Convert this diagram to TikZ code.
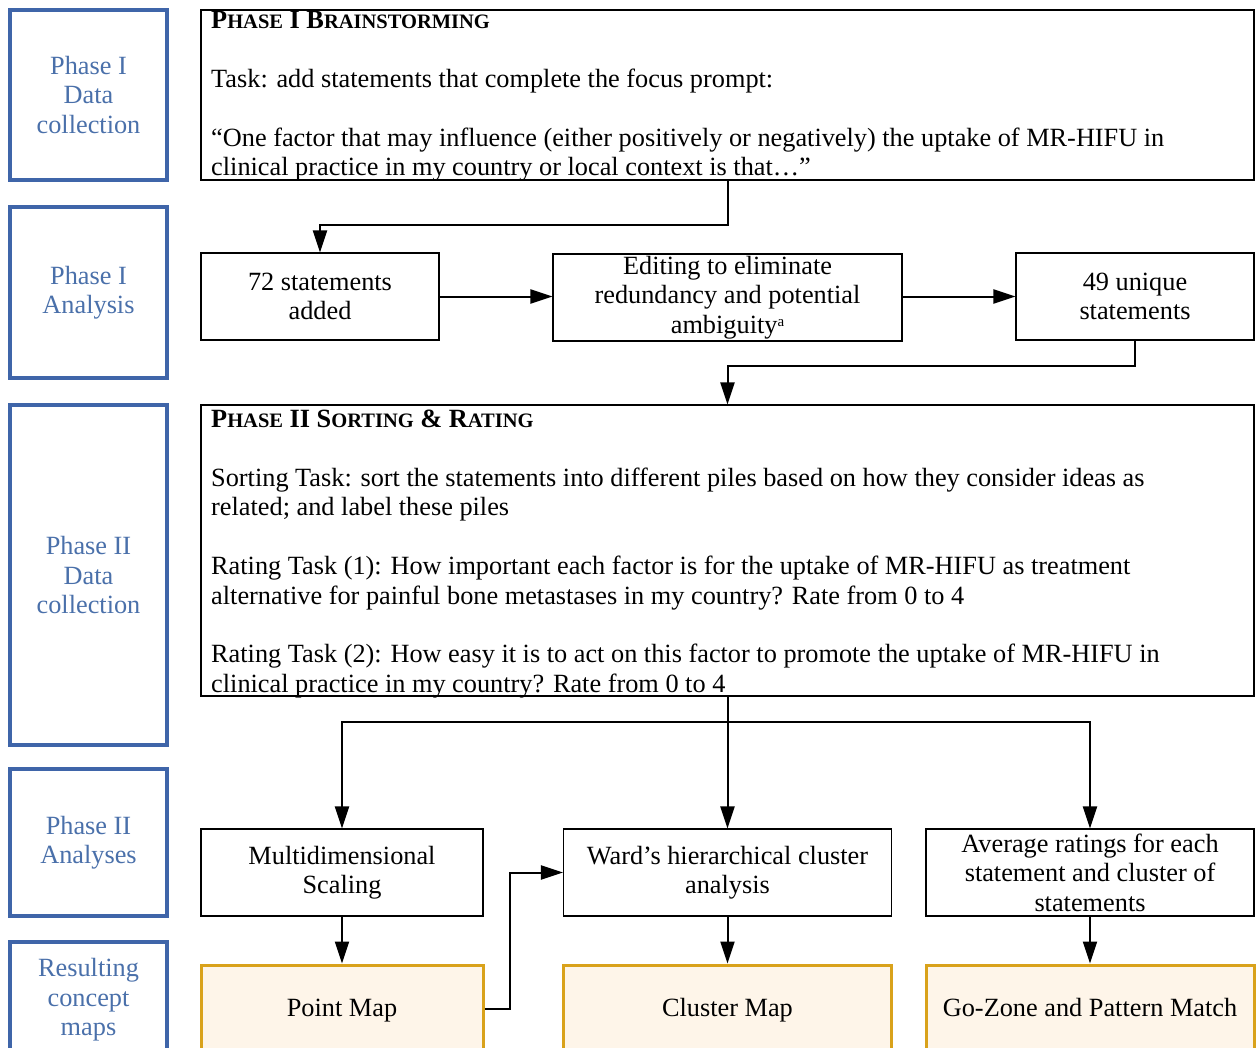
\documentclass[tikz,border=0pt]{standalone}
\usepackage{fontspec}
\setmainfont{Liberation Serif}
\usetikzlibrary{arrows.meta}

\definecolor{phaseedge}{HTML}{3F65A9}
\definecolor{phasetext}{HTML}{4A70AA}
\definecolor{mapfill}{HTML}{FEF5E9}
\definecolor{mapedge}{HTML}{D9A21B}

\newcommand\diagfont{\fontsize{26.3}{29.4}\selectfont}
% bold headings with small capitals built from two sizes
\newcommand\hsc[1]{{\fontsize{20.5}{29.4}\selectfont #1}}

\tikzset{
  phasebox/.style={draw=phaseedge, line width=3.2pt, text=phasetext,
    align=center, inner sep=0pt, minimum width=157pt, font=\diagfont},
  stepbox/.style={draw=black, line width=1.1pt, align=center,
    inner sep=0pt, font=\diagfont},
  framebox/.style={draw=black, line width=1.1pt, inner sep=0pt},
  mapbox/.style={draw=mapedge, fill=mapfill, line width=3pt, align=center,
    inner sep=0pt, minimum width=282pt, minimum height=88pt, font=\diagfont,
    text height=24pt, text depth=10pt},
  bodytext/.style={align=left, inner sep=0pt, font=\diagfont},
  conn/.style={line width=2pt, draw=black},
  arr/.style={conn, -{Triangle[length=22pt,width=14pt]}},
}

\begin{document}
\begin{tikzpicture}[x=1pt,y=-1pt]
\clip (0,0) rectangle (1257,1047);

% phase labels on the left
\node[phasebox, minimum height=170pt] (b1) at (88.5,95) {Phase I\\Data\\collection};
\node[phasebox, minimum height=171pt] (b2) at (88.5,292.5) {Phase I\\Analysis};
\node[phasebox, minimum height=340pt] (b3) at (88.5,575) {Phase II\\Data\\collection};
\node[phasebox, minimum height=147pt] (b4) at (88.5,842.5) {Phase II\\Analyses};
\node[phasebox, minimum height=116pt] (b5) at (88.5,1000) {Resulting\\concept\\maps};

% Phase I brainstorming
\node[framebox, minimum width=1053pt, minimum height=170pt] (brain) at (727.5,95) {};
\node[bodytext, anchor=north west] (braintext) at (211,11) {%
  \textbf{P\hsc{HASE} I B\hsc{RAINSTORMING}}\\[29.4pt]
  Task: add statements that complete the focus prompt:\\[29.4pt]
  “One factor that may influence (either positively or negatively) the uptake of MR-HIFU in\\
  clinical practice in my country or local context is that…”};

% Phase I analysis
\node[stepbox, minimum width=238pt, minimum height=87pt] (n72) at (320,296.5) {72 statements\\added};
\node[stepbox, minimum width=349pt, minimum height=87pt] (edit) at (727.5,297.5)
  {Editing to eliminate\\redundancy and potential\\ambiguity{\fontsize{15}{15}\selectfont\raisebox{7pt}{a}}};
\node[stepbox, minimum width=238pt, minimum height=87pt] (n49) at (1135,296.5) {49 unique\\statements};

% Phase II sorting and rating
\node[framebox, minimum width=1053pt, minimum height=291pt] (p2) at (727.5,550.5) {};
\node[bodytext, anchor=north west] (p2text) at (211,410) {%
  \textbf{P\hsc{HASE} II S\hsc{ORTING} \& R\hsc{ATING}}\\[29.4pt]
  Sorting Task: sort the statements into different piles based on how they consider ideas as\\
  related; and label these piles\\[29.4pt]
  Rating Task (1): How important each factor is for the uptake of MR-HIFU as treatment\\
  alternative for painful bone metastases in my country? Rate from 0 to 4\\[29.4pt]
  Rating Task (2): How easy it is to act on this factor to promote the uptake of MR-HIFU in\\
  clinical practice in my country? Rate from 0 to 4};

% Phase II analyses
\node[stepbox, minimum width=282pt, minimum height=87pt] (mds) at (342,872.5) {Multidimensional\\Scaling};
\node[stepbox, minimum width=328pt, minimum height=87pt] (ward) at (727.5,872.5) {Ward’s hierarchical cluster\\analysis};
\node[stepbox, minimum width=328pt, minimum height=87pt] (avg) at (1090,872.5)
  {Average ratings for each\\statement and cluster of\\statements};

% resulting maps
\node[mapbox] (pmap) at (342,1009) {Point Map};
\node[mapbox, minimum width=328pt] (cmap) at (727.5,1009) {Cluster Map};
\node[mapbox, minimum width=328pt] (gzone) at (1090,1009) {Go-Zone and Pattern Match};

% connectors
\coordinate (j1) at (727.5,225);
\coordinate (j2) at (1135,366);
\coordinate (j3) at (727.5,722);
\coordinate (j4) at (509.5,1009);

\draw[arr] (brain.south) -- (j1) -| (n72.north);
\draw[arr] (n72.east) -- (edit.west |- n72.east);
\draw[arr] (edit.east |- n49.west) -- (n49.west);
\draw[arr] (n49.south) -- (j2) -| (p2.north);
\draw[arr] (p2.south) -- (ward.north);
\draw[arr] (j3) -| (mds.north);
\draw[arr] (j3) -| (avg.north);
\draw[arr] (mds.south) -- (pmap.north);
\draw[arr] (ward.south) -- (cmap.north);
\draw[arr] (avg.south) -- (gzone.north);
\draw[arr] (pmap.east) -- (j4) |- (ward.west);
\end{tikzpicture}
\end{document}
